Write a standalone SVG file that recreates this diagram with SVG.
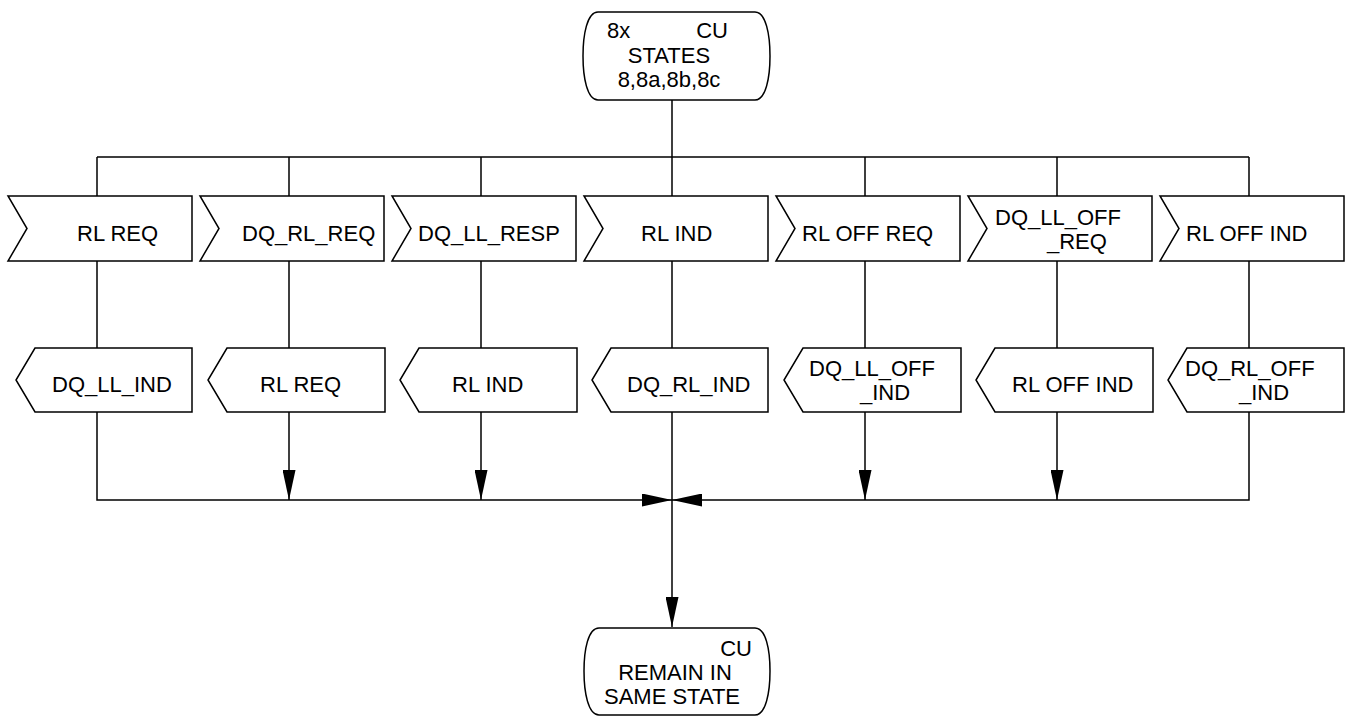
<svg xmlns="http://www.w3.org/2000/svg" width="1351" height="717" viewBox="0 0 1351 717">
<style>
.s{fill:#fff;stroke:#000;stroke-width:1.5}
.t{font-family:"Liberation Sans",Arial,sans-serif;font-size:22px;fill:#000}
.c{fill:none;stroke:#000;stroke-width:1.5}
</style>
<defs>
<marker id="arr" viewBox="0 0 30 13" refX="30" refY="6.5" markerWidth="30" markerHeight="13" markerUnits="userSpaceOnUse" orient="auto"><path d="M0,0 L30,6.5 L0,13 Z" fill="#000"/></marker>
</defs>
<rect width="1351" height="717" fill="#fff"/>
<g id="connectors">
<path class="c" d="M672,100 V157 M97,157 H1249"/>
<path class="c" d="M97,157 V196 M289,157 V196 M481,157 V196 M672,157 V196 M865,157 V196 M1057,157 V196 M1249,157 V196"/>
<path class="c" d="M97,261 V348 M289,261 V348 M481,261 V348 M672,261 V348 M865,261 V348 M1057,261 V348 M1249,261 V348"/>
<path class="c" d="M97,412 V500 H672" marker-end="url(#arr)"/>
<path class="c" d="M1249,412 V500 H672" marker-end="url(#arr)"/>
<path class="c" d="M289,412 V500" marker-end="url(#arr)"/>
<path class="c" d="M481,412 V500" marker-end="url(#arr)"/>
<path class="c" d="M865,412 V500" marker-end="url(#arr)"/>
<path class="c" d="M1057,412 V500" marker-end="url(#arr)"/>
<path class="c" d="M672,412 V627" marker-end="url(#arr)"/>
</g>
<g id="state-top">
<path class="s" d="M598,12 H755 C766,12 770,35 770,56 C770,77 766,100 755,100 H598 C587,100 583,77 583,56 C583,35 587,12 598,12 Z"/>
<text class="t" x="607" y="38">8x</text>
<text class="t" x="728" y="38" text-anchor="end">CU</text>
<text class="t" x="669" y="63" text-anchor="middle">STATES</text>
<text class="t" x="669" y="87" text-anchor="middle">8,8a,8b,8c</text>
</g>
<g id="in1"><path class="s" d="M8,196 H192 V261 H8 L27,228.5 Z"/><text class="t" x="77" y="241">RL REQ</text></g>
<g id="in2"><path class="s" d="M200,196 H384 V261 H200 L219,228.5 Z"/><text class="t" x="242" y="241">DQ_RL_REQ</text></g>
<g id="in3"><path class="s" d="M392,196 H576 V261 H392 L411,228.5 Z"/><text class="t" x="418" y="241">DQ_LL_RESP</text></g>
<g id="in4"><path class="s" d="M584,196 H768 V261 H584 L603,228.5 Z"/><text class="t" x="641" y="241">RL IND</text></g>
<g id="in5"><path class="s" d="M776,196 H960 V261 H776 L795,228.5 Z"/><text class="t" x="802" y="241">RL OFF REQ</text></g>
<g id="in6"><path class="s" d="M968,196 H1152 V261 H968 L987,228.5 Z"/><text class="t" x="995" y="225">DQ_LL_OFF</text><text class="t" x="1047" y="249">_REQ</text></g>
<g id="in7"><path class="s" d="M1160,196 H1344 V261 H1160 L1179,228.5 Z"/><text class="t" x="1186" y="241">RL OFF IND</text></g>
<g id="out1"><path class="s" d="M35,348 H192 V412 H35 L16,380 Z"/><text class="t" x="52" y="392">DQ_LL_IND</text></g>
<g id="out2"><path class="s" d="M227,348 H385 V412 H227 L208,380 Z"/><text class="t" x="260" y="392">RL REQ</text></g>
<g id="out3"><path class="s" d="M419,348 H577 V412 H419 L400,380 Z"/><text class="t" x="452" y="392">RL IND</text></g>
<g id="out4"><path class="s" d="M611,348 H768 V412 H611 L592,380 Z"/><text class="t" x="627" y="392">DQ_RL_IND</text></g>
<g id="out5"><path class="s" d="M803,348 H961 V412 H803 L784,380 Z"/><text class="t" x="809" y="376">DQ_LL_OFF</text><text class="t" x="860" y="400">_IND</text></g>
<g id="out6"><path class="s" d="M995,348 H1153 V412 H995 L976,380 Z"/><text class="t" x="1012" y="392">RL OFF IND</text></g>
<g id="out7"><path class="s" d="M1187,348 H1344 V412 H1187 L1168,380 Z"/><text class="t" x="1185" y="376">DQ_RL_OFF</text><text class="t" x="1239" y="400">_IND</text></g>
<g id="state-bottom">
<path class="s" d="M599,628 H755 C766,628 770,650 770,671 C770,692 766,715 755,715 H599 C588,715 584,692 584,671 C584,650 588,628 599,628 Z"/>
<text class="t" x="752" y="656" text-anchor="end">CU</text>
<text class="t" x="675" y="680" text-anchor="middle">REMAIN IN</text>
<text class="t" x="672" y="704" text-anchor="middle">SAME STATE</text>
</g>
</svg>
